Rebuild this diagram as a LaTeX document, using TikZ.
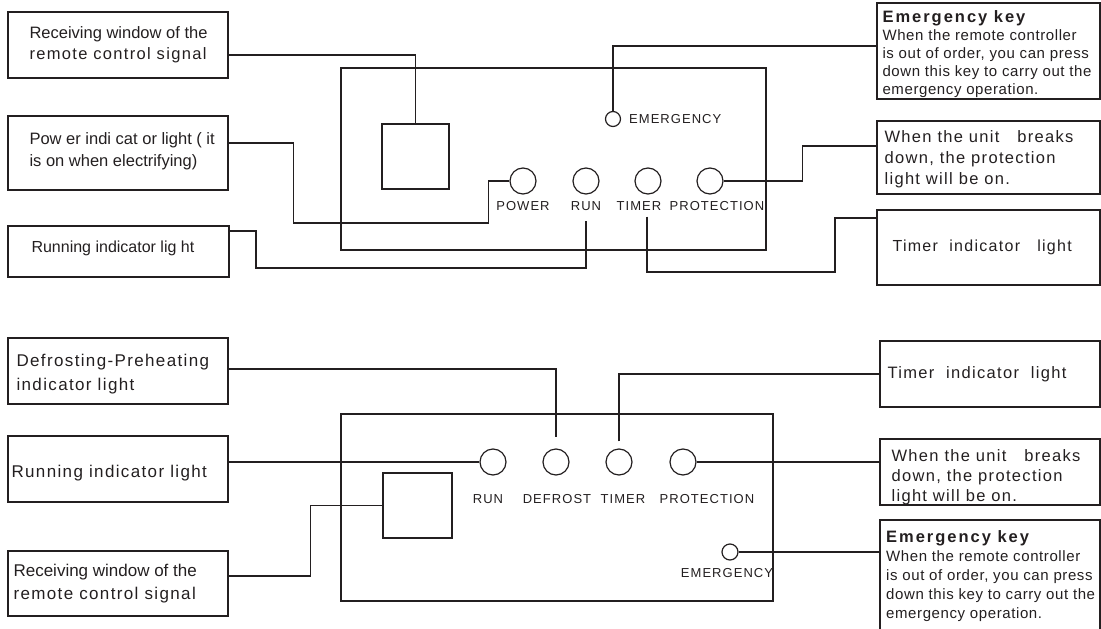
\documentclass[tikz,border=0pt]{standalone}
\usepackage{fontspec}
\setmainfont{Liberation Sans}[LetterSpace=8]
\newfontfamily\plainsans{Liberation Sans}
\definecolor{ink}{HTML}{231F20}
\tikzset{
  panel/.style={draw, line width=1.3pt, inner sep=0pt},
  box/.style={draw, line width=1.3pt, inner sep=0pt},
  lamp/.style={draw, circle, line width=1.2pt, minimum size=26pt, inner sep=0pt},
  key/.style={lamp, minimum size=15pt},
  tag/.style={font=\fontsize{13}{16}\selectfont, inner sep=2pt},
  txt/.style={anchor=west, align=left, inner sep=0pt, font=\fontsize{16.5}{21}\selectfont},
  note/.style={txt, font=\fontsize{15}{18}\selectfont\addfontfeature{LetterSpace=4}},
  wire/.style={line width=1.2pt}
}
\newcommand\keytitle{{\fontsize{16.5}{18}\selectfont\bfseries\addfontfeature{LetterSpace=12}Emergency key}}
\begin{document}
\begin{tikzpicture}[x=1pt, y=-1pt, color=ink]
\useasboundingbox (0,0) rectangle (1101,629);
\clip (0,0) rectangle (1101,629);
% top panel
\node[panel, minimum width=425pt, minimum height=182pt] (panA) at (553.5,159) {};
\node[box, minimum width=67pt, minimum height=65pt] (sqA) at (415.5,156.5) {};
\node[key] (emA) at (613,119) {};
\node[tag, anchor=west] (labemA) at (627,119) {EMERGENCY};
\foreach \n/\x/\lx/\t in {pwA/523/523/POWER, ruA/586/586/RUN, tmA/648/639/TIMER, ptA/710/717/PROTECTION}{
  \node[lamp] (\n) at (\x,181) {};
  \node[tag] (lab\n) at (\lx,206) {\t};
}
% top labels
\node[box, minimum width=220pt, minimum height=66pt] (recvA) at (118,45) {};
\node[txt] (recvAt) at ([xshift=22pt]recvA.west) {{\plainsans Receiving window of the}\\remote control signal};
\node[box, minimum width=220pt, minimum height=74pt] (powA) at (118,153) {};
\node[txt, font=\fontsize{16.5}{22}\selectfont\plainsans] (powAt) at ([xshift=22pt,yshift=2pt]powA.west) {Pow er indi cat or light ( it\\is on when electrifying)};
\node[box, minimum width=221pt, minimum height=51pt] (runA) at (118.5,251.5) {};
\node[txt, font=\fontsize{16}{20}\selectfont\plainsans] (runAt) at ([xshift=24pt,yshift=3.5pt]runA.west) {Running indicator lig ht};
\node[box, minimum width=223pt, minimum height=96pt] (emgA) at (988.5,51) {};
\node[note] (emgAt) at ([xshift=6pt,yshift=-3pt]emgA.west) {\keytitle\\When the remote controller\\is out of order, you can press\\down this key to carry out the\\emergency operation.};
\node[box, minimum width=223pt, minimum height=73pt] (protA) at (988.5,157.5) {};
\node[txt] (protAt) at ([xshift=8pt,yshift=-1.5pt]protA.west) {When the unit\ \ \ breaks\\down, the protection\\light will be on.};
\node[box, minimum width=223pt, minimum height=75pt] (timA) at (988.5,247.5) {};
\node[txt, font=\fontsize{16}{20}\selectfont] (timAt) at ([xshift=16pt]timA.west) {Timer\ \ indicator\ \ \ light};
% top wires
\draw[wire] ([yshift=-10pt]recvA.east) -| (sqA.north);
\draw[wire] ([yshift=5pt]emgA.west) -| (emA.north);
\draw[wire] ([yshift=10pt]powA.east) -- ++(65,0) -- ++(0,80) -| ([xshift=-21pt]pwA.west) -- (pwA.west);
\draw[wire] ([yshift=20.5pt]runA.east) -| (256,268) -| ([yshift=-8pt]labruA.south);
\draw[wire] ([xshift=8pt,yshift=-4pt]labtmA.south) |- (835,272) |- ([yshift=29.5pt]timA.west);
\draw[wire] (ptA.east) -- ++(79,0) |- ([yshift=11.5pt]protA.west);

% bottom panel
\node[panel, minimum width=432pt, minimum height=187pt] (panB) at (557,507.5) {};
\node[box, minimum width=69pt, minimum height=65pt] (sqB) at (417.5,505.5) {};
\foreach \n/\x/\lx/\t in {ruB/493/488/RUN, dfB/556/557/DEFROST, tmB/619/623/TIMER, ptB/683/707/PROTECTION}{
  \node[lamp] (\n) at (\x,462) {};
  \node[tag] (lab\n) at (\lx,499) {\t};
}
\node[key, minimum size=16pt] (emB) at (730,552) {};
\node[tag] (labemB) at (727,573) {EMERGENCY};
% bottom labels
\node[box, minimum width=220pt, minimum height=66pt] (defB) at (118,371) {};
\node[txt, font=\fontsize{17}{24}\selectfont] (defBt) at ([xshift=9pt,yshift=-3pt]defB.west) {Defrosting-Preheating\\indicator light};
\node[box, minimum width=220pt, minimum height=66pt] (runB) at (118,469) {};
\node[txt, font=\fontsize{17}{21}\selectfont] (runBt) at ([xshift=4pt,yshift=-4pt]runB.west) {Running indicator light};
\node[box, minimum width=220pt, minimum height=65pt] (recvB) at (118,583.5) {};
\node[txt, font=\fontsize{17}{23}\selectfont] (recvBt) at ([xshift=6pt]recvB.west) {{\plainsans Receiving window of the}\\remote control signal};
\node[box, minimum width=220pt, minimum height=66pt] (timB) at (990,374) {};
\node[txt, font=\fontsize{16.5}{20}\selectfont] (timBt) at ([xshift=8pt]timB.west) {Timer\ \ indicator\ \ light};
\node[box, minimum width=220pt, minimum height=66pt] (protB) at (990,472) {};
\node[txt, font=\fontsize{16.5}{20}\selectfont] (protBt) at ([xshift=12pt,yshift=-5pt]protB.west) {When the unit\ \ \ breaks\\down, the protection\\light will be on.};
\node[box, minimum width=220pt, minimum height=160pt] (emgB) at (990,600) {};
\node[note, font=\fontsize{15}{19}\selectfont\addfontfeature{LetterSpace=4}] (emgBt) at (886,576) {\keytitle\\When the remote controller\\is out of order, you can press\\down this key to carry out the\\emergency operation.};
% bottom wires
\draw[wire] ([yshift=2pt]defB.east) -| ([yshift=11pt]dfB.north);
\draw[wire] (runB.east |- ruB.west) -- (ruB.west);
\draw[wire] ([yshift=7.5pt]recvB.east) -- ++(82,0) |- (sqB.west);
\draw[wire] ([yshift=7pt]tmB.north) |- (timB.west);
\draw[wire] (ptB.east) -- (ptB.east -| protB.west);
\draw[wire] (emB.east) -- (emB.east -| emgB.west);
\end{tikzpicture}
\end{document}
